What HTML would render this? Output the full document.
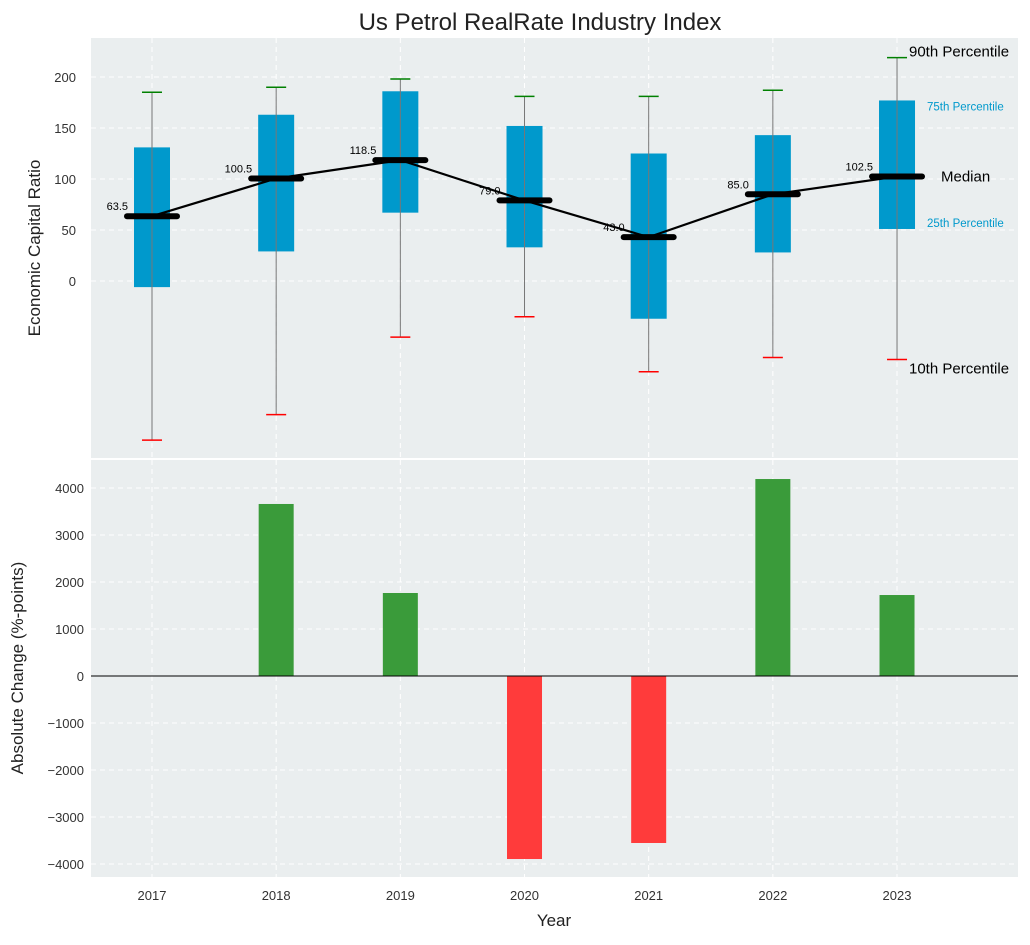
<!DOCTYPE html>
<html><head><meta charset="utf-8"><style>
body{margin:0;background:#fff;font-family:"Liberation Sans",Arial,sans-serif}
svg text{font-family:"Liberation Sans",Arial,sans-serif}
</style></head><body>
<svg id="chart" width="1030" height="940"></svg>
<script>
const years = ['2017','2018','2019','2020','2021','2022','2023'];
const p10 = [-156,-131,-55,-35,-89,-75,-77];
const p25 = [-6,29,67,33,-37,28,51];
const medians = [63.5,100.5,118.5,79.0,43.0,85.0,102.5];
const p75 = [131,163,186,152,125,143,177];
const p90 = [185,190,198,181,181,187,219];
const changes = [0,3660,1766,-3894,-3553,4191,1723];
const topTicks = [0,50,100,150,200];
const botTicks = [-4000,-3000,-2000,-1000,0,1000,2000,3000,4000];

const NS='http://www.w3.org/2000/svg';
const svg=document.getElementById('chart');
function el(tag,attrs,parent){const e=document.createElementNS(NS,tag);for(const k in attrs)e.setAttribute(k,attrs[k]);(parent||svg).appendChild(e);return e;}
const L=91,R=1018;
const x=i=>152+i*124.17;
const T={top:38,bot:458}, B={top:460,bot:877};
const yT=v=>281-v*1.02;
const yB=v=>676-v*0.047;

// backgrounds
const bgT=el('rect',{x:L,y:T.top,width:R-L,height:T.bot-T.top,fill:'#eaeeef'});


const bgB=el('rect',{x:L,y:B.top,width:R-L,height:B.bot-B.top,fill:'#eaeeef'});



// grids
years.forEach((yr,i)=>{
  el('line',{x1:x(i),x2:x(i),y1:T.top,y2:T.bot,stroke:'#fff','stroke-dasharray':'5,4','stroke-width':1});
  el('line',{x1:x(i),x2:x(i),y1:B.top,y2:B.bot,stroke:'#fff','stroke-dasharray':'5,4','stroke-width':1});
  const t=el('text',{x:x(i),y:900,'font-size':13,fill:'#333','text-anchor':'middle'});t.textContent=yr;
  
  
});
topTicks.forEach(v=>{
  el('line',{x1:L,x2:R,y1:yT(v),y2:yT(v),stroke:'#fff','stroke-dasharray':'5,4'});
  const t=el('text',{x:76,y:yT(v)+5,'font-size':13,fill:'#333','text-anchor':'end'});t.textContent=v;
  
  
});
botTicks.forEach(v=>{
  if(v!==0) el('line',{x1:L,x2:R,y1:yB(v),y2:yB(v),stroke:'#fff','stroke-dasharray':'5,4'});
  const t=el('text',{x:84,y:yB(v)+5,'font-size':13,fill:'#333','text-anchor':'end'});t.textContent=v<0?'\u2212'+(-v):v;
  
  
});

// boxes
years.forEach((yr,i)=>{
  const bw=36;
  const b=el('rect',{x:x(i)-bw/2,y:yT(p75[i]),width:bw,height:yT(p25[i])-yT(p75[i]),fill:'#0099cc'});
  
  
  el('line',{x1:x(i),x2:x(i),y1:yT(p90[i]),y2:yT(p10[i]),stroke:'#777','stroke-width':1});
  const w1=el('line',{x1:x(i)-10,x2:x(i)+10,y1:yT(p90[i]),y2:yT(p90[i]),stroke:'green','stroke-width':1.5});
  
  
  const w2=el('line',{x1:x(i)-10,x2:x(i)+10,y1:yT(p10[i]),y2:yT(p10[i]),stroke:'red','stroke-width':1.5});
  
  
});
// median line
const pl=el('polyline',{points:medians.map((m,i)=>x(i)+','+yT(m)).join(' '),fill:'none',stroke:'#000','stroke-width':2.2});


years.forEach((yr,i)=>{
  const m=el('line',{x1:x(i)-25,x2:x(i)+25,y1:yT(medians[i]),y2:yT(medians[i]),stroke:'#000','stroke-width':6,'stroke-linecap':'round'});
  
  
  const t=el('text',{x:x(i)-24,y:yT(medians[i])-6,'font-size':11,fill:'#000','text-anchor':'end'});t.textContent=medians[i].toFixed(1);
  
  
});
// annotations
const last=6;
[['90th Percentile',909,yT(p90[last])-1,15,'#000'],['75th Percentile',927,yT(p75[last])+10,11.5,'#0099cc'],
 ['Median',941,yT(medians[last])+5,15,'#000'],['25th Percentile',927,yT(p25[last])-2,11.5,'#0099cc'],
 ['10th Percentile',909,yT(p10[last])+14,15,'#000']].forEach(a=>{
  const t=el('text',{x:a[1],y:a[2],'font-size':a[3],fill:a[4]});t.textContent=a[0];
  
  
});

// bars
years.forEach((yr,i)=>{
  const v=changes[i]; if(v===0) return;
  const r=el('rect',{x:x(i)-17.5,y:Math.min(yB(v),yB(0)),width:35,height:Math.abs(yB(v)-yB(0)),fill:v>0?'#3a9b3a':'#ff3b3b'});
  
  
});
el('line',{x1:L,x2:R,y1:yB(0),y2:yB(0),stroke:'#000','stroke-width':1});

// titles
const ti=el('text',{x:540,y:30,'font-size':24,fill:'#222','text-anchor':'middle'});ti.textContent='Us Petrol RealRate Industry Index';


const ya=el('text',{x:0,y:0,'font-size':17,fill:'#222','text-anchor':'middle',transform:'translate(40,248) rotate(-90)'});ya.textContent='Economic Capital Ratio';


const yb=el('text',{x:0,y:0,'font-size':17,fill:'#222','text-anchor':'middle',transform:'translate(23,668) rotate(-90)'});yb.textContent='Absolute Change (%-points)';


const xa=el('text',{x:554,y:926,'font-size':17,fill:'#222','text-anchor':'middle'});xa.textContent='Year';


</script>
</body></html>
